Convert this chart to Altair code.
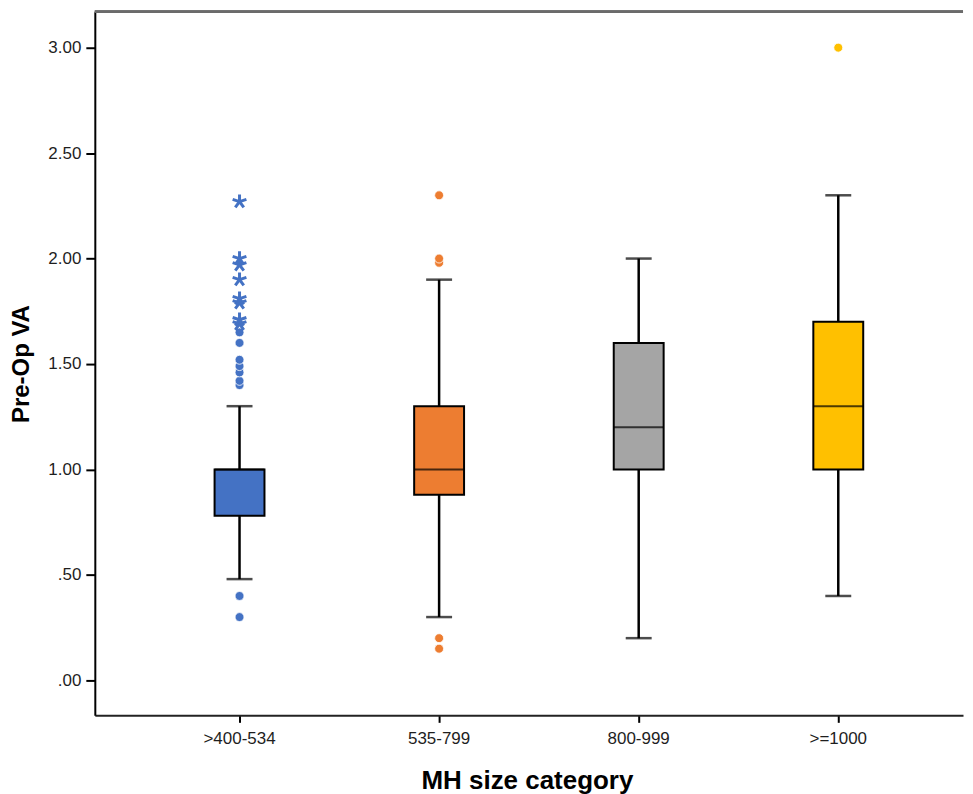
import altair as alt
import pandas as pd

# ---- data ----
cats = [">400-534", "535-799", "800-999", ">=1000"]
colors = ["#4472C4", "#ED7D31", "#A5A5A5", "#FFC000"]
q1 = [0.78, 0.88, 1.00, 1.00]
median = [1.00, 1.00, 1.20, 1.30]
q3 = [1.00, 1.30, 1.60, 1.70]
whisker_lo = [0.48, 0.30, 0.20, 0.40]
whisker_hi = [1.30, 1.90, 2.00, 2.30]

# outliers (circles) and extreme values (asterisks)
circle_cat = [">400-534"] * 9 + ["535-799"] * 5 + [">=1000"]
circle_val = [0.30, 0.40, 1.40, 1.42, 1.46, 1.49, 1.52, 1.60, 1.65,
              0.15, 0.20, 1.98, 2.00, 2.30,
              3.00]
star_cat = [">400-534"] * 8
star_val = [1.69, 1.71, 1.79, 1.81, 1.90, 1.97, 2.00, 2.27]

y_ticks = [0.0, 0.5, 1.0, 1.5, 2.0, 2.5, 3.0]

box_df = pd.DataFrame({"cat": cats, "q1": q1, "median": median, "q3": q3,
                       "lo": whisker_lo, "hi": whisker_hi})
circ_df = pd.DataFrame({"cat": circle_cat, "val": circle_val})
star_df = pd.DataFrame({"cat": star_cat, "val": star_val})

W, H = 870, 705
FONT = "Liberation Sans"

xscale = alt.Scale(domain=cats, paddingInner=0, paddingOuter=0.175, align=0.643)
yscale = alt.Scale(domain=[-0.166, 3.17], nice=False, zero=False)
cscale = alt.Scale(domain=cats, range=colors)

X = alt.X("cat:N", scale=xscale, sort=cats,
          axis=alt.Axis(title="MH size category", labelAngle=0, labelFontSize=17,
                        labelPadding=8, tickSize=7, titleFontSize=26,
                        titlePadding=21, titleX=433, grid=False,
                        domainColor="#222222", domainWidth=2,
                        tickColor="black", tickWidth=2))
Y = alt.Y("lo:Q", scale=yscale,
          axis=alt.Axis(title="Pre-Op VA", values=y_ticks, labelFontSize=17,
                        labelPadding=5, tickSize=9, titleFontSize=24,
                        titlePadding=14, grid=False,
                        domainColor="black", domainWidth=2,
                        tickColor="black", tickWidth=2,
                        labelExpr="replace(format(datum.value, '.2f'), '0.', '.')"))

base = alt.Chart(box_df)

whisk = base.mark_rule(color="black", strokeWidth=2.5).encode(x=X, y=Y, y2="hi:Q")
caps_lo = base.mark_tick(color="black", size=26, thickness=2.5).encode(
    x=alt.X("cat:N", scale=xscale, sort=cats), y=alt.Y("lo:Q", scale=yscale))
caps_hi = base.mark_tick(color="black", size=26, thickness=2.5).encode(
    x=alt.X("cat:N", scale=xscale, sort=cats), y=alt.Y("hi:Q", scale=yscale))
box = base.mark_bar(size=50, stroke="black", strokeWidth=2).encode(
    x=alt.X("cat:N", scale=xscale, sort=cats),
    y=alt.Y("q1:Q", scale=yscale), y2="q3:Q",
    color=alt.Color("cat:N", scale=cscale, legend=None))
med = base.mark_tick(color="black", size=50, thickness=2).encode(
    x=alt.X("cat:N", scale=xscale, sort=cats), y=alt.Y("median:Q", scale=yscale))

circles = alt.Chart(circ_df).mark_point(shape="circle", filled=True, size=80,
                                        opacity=1, stroke="white", strokeWidth=0.8).encode(
    x=alt.X("cat:N", scale=xscale, sort=cats),
    y=alt.Y("val:Q", scale=yscale),
    fill=alt.Fill("cat:N", scale=cscale, legend=None))

star_path = ("M0,0L0,-1M0,0L0.951,-0.309M0,0L0.588,0.809"
             "M0,0L-0.588,0.809M0,0L-0.951,-0.309")
stars = alt.Chart(star_df).mark_point(shape=star_path, filled=False, size=210,
                                      opacity=1, strokeWidth=3, color="#4472C4").encode(
    x=alt.X("cat:N", scale=xscale, sort=cats),
    y=alt.Y("val:Q", scale=yscale))

top_line = base.mark_rule(color="#6b6b6b", strokeWidth=2.5).encode(
    x=alt.value(0), x2=alt.value(W), y=alt.value(0))

chart = alt.layer(whisk, caps_lo, caps_hi, box, med, circles, stars, top_line).properties(
    width=W, height=H, background="white",
    padding={"left": 1, "top": 1, "right": 0, "bottom": 0},
).configure_view(stroke=None).configure_axis(
    grid=False, labelFont=FONT, titleFont=FONT, labelColor="#1e1e1e",
    titleColor="#000000", titleFontWeight="bold",
)

chart.save("out.html", embed_options={"renderer": "svg", "actions": False})
